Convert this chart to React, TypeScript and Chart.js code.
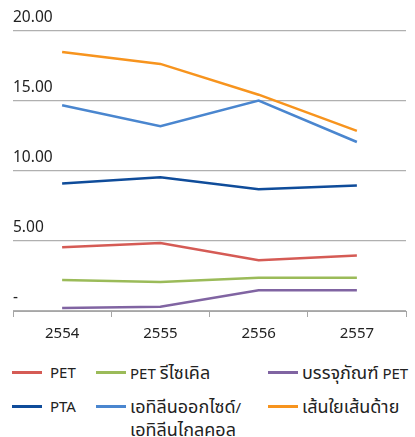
import React, { useEffect, useRef } from "react";
import { Chart, registerables } from "chart.js";

Chart.register(...registerables);

const categories = ["2554", "2555", "2556", "2557"];
const yTickLabels: Record<number, string> = { 0: "-", 5: "5.00", 10: "10.00", 15: "15.00", 20: "20.00" };

const seriesNames = ["PET", "PET รีไซเคิล", "บรรจุภัณฑ์ PET", "PTA", "เอทิลีนออกไซด์/\nเอทิลีนไกลคอล", "เส้นใยเส้นด้าย"];
const petValues = [4.56, 4.86, 3.62, 3.97];
const petRecycledValues = [2.21, 2.07, 2.37, 2.37];
const petPackagingValues = [0.21, 0.31, 1.48, 1.48];
const ptaValues = [9.11, 9.56, 8.69, 8.97];
const ethyleneValues = [14.7, 13.2, 15.03, 12.07];
const fiberValues = [18.5, 17.65, 15.45, 12.87];
const seriesColors = ["#D55B55", "#9BBB59", "#8064A2", "#0F4C9A", "#4A86CF", "#F7941E"];

const FONT = "'Noto Sans', 'Noto Sans Thai', 'DejaVu Sans', sans-serif";

function renderLabel(text: string) {
  const parts = text.split(/([\u0E00-\u0E7F]+)/);
  return parts.map((p, k) =>
    /[\u0E00-\u0E7F]/.test(p) ? (
      <span key={k} style={{ fontSize: "1.2em" }}>
        {p}
      </span>
    ) : (
      <span key={k}>{p}</span>
    )
  );
}

export default function App() {
  const ref = useRef<HTMLCanvasElement | null>(null);

  useEffect(() => {
    document.body.style.margin = "0";
    const values = [petValues, petRecycledValues, petPackagingValues, ptaValues, ethyleneValues, fiberValues];
    const chart = new Chart(ref.current!, {
      type: "line",
      data: {
        labels: categories,
        datasets: values.map((v, i) => ({
          label: seriesNames[i],
          data: v,
          borderColor: seriesColors[i],
          backgroundColor: seriesColors[i],
          borderWidth: 2.5,
          pointRadius: 0,
          tension: 0,
          fill: false,
        })),
      },
      options: {
        animation: false,
        responsive: false,
        maintainAspectRatio: false,
        layout: { padding: { left: 13, right: 9, top: 31, bottom: 0 } },
        plugins: { legend: { display: false }, tooltip: { enabled: false } },
        scales: {
          x: {
            offset: true,
            grid: { display: true, drawOnChartArea: false, offset: true, tickLength: 6, color: "#A6A6A6", lineWidth: 1 },
            border: { display: true, color: "#A6A6A6", width: 1 },
            ticks: { color: "#222", font: { family: FONT, size: 15 }, padding: 8 },
          },
          y: {
            min: 0,
            max: 20,
            border: { display: false },
            grid: { color: "#B0B0B0", lineWidth: 1.2, drawTicks: false },
            ticks: {
              stepSize: 5,
              mirror: true,
              padding: 0,
              labelOffset: -13,
              color: "#222",
              font: { family: FONT, size: 15.5 },
              callback: (v: any) => yTickLabels[Number(v)] ?? "",
            },
          },
        },
      },
    });
    return () => chart.destroy();
  }, []);

  const legendItems = [
    { i: 0, x: 12, y: 372 },
    { i: 1, x: 96, y: 372 },
    { i: 2, x: 268, y: 372 },
    { i: 3, x: 12, y: 406 },
    { i: 4, x: 96, y: 406 },
    { i: 5, x: 268, y: 406 },
  ];

  return (
    <div style={{ position: "relative", width: 415, height: 437, background: "#fff", fontFamily: FONT }}>
      <canvas ref={ref} width={415} height={351} style={{ position: "absolute", left: 0, top: 0, width: 415, height: 351 }} />
      {legendItems.map(({ i, x, y }) => (
        <div key={i} style={{ position: "absolute", left: x, top: y - 11, height: 22 }}>
          <div style={{ position: "absolute", left: 0, top: 10, width: 30, height: 3, background: seriesColors[i] }} />
          <div
            style={{
              position: "absolute",
              left: i === 0 || i === 3 ? 38 : 34,
              top: 0,
              fontSize: 15,
              lineHeight: "22px",
              color: "#222",
              whiteSpace: "pre",
            }}
          >
            {renderLabel(seriesNames[i])}
          </div>
        </div>
      ))}
    </div>
  );
}
